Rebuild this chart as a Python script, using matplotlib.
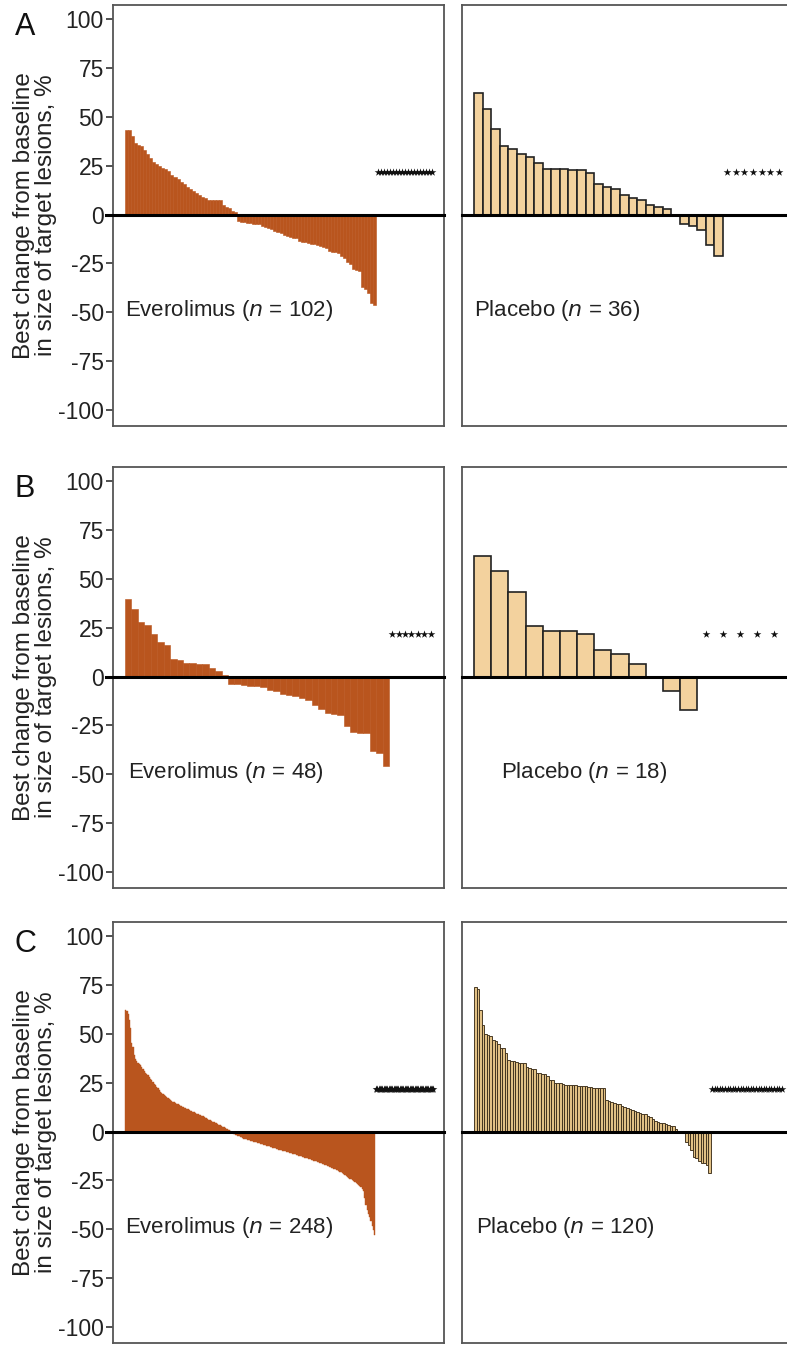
import numpy as np
import matplotlib
matplotlib.use("Agg")
import matplotlib.pyplot as plt

plt.rcParams["font.family"] = ["Liberation Sans", "DejaVu Sans"]

# ── data: best % change per patient (sorted), n per arm ─────────────
evero_a_n = 102
evero_a = [43, 43, 40, 36.5, 35.5, 35, 33, 31, 29, 27, 26, 25, 24, 23, 22, 20,
           19, 18, 16.7, 15.5, 14, 13, 11.8, 11, 10, 9.2, 8.5, 7.5, 7.4, 7.3,
           7.2, 7.2, 5, 3.8, 3.5, 2, 1.2,
           -3.5, -3.7, -3.8, -4.2, -4.4, -4.6, -4.8, -5, -5.8, -6.2, -7, -7.4,
           -8.5, -9, -9.3, -10.3, -10.8, -11.5, -11.8, -12.2, -13.5, -14, -14.2,
           -14.5, -15, -15.3, -15.6, -16.3, -16.7, -17, -18.5, -19, -19.3, -19.6,
           -21, -22, -24.5, -25.5, -28, -28.5, -29, -37, -38, -40, -45, -46]

placebo_a_n = 36
placebo_a = [62.2, 54, 43.8, 34.9, 33.7, 31, 29.3, 26.4, 23.5, 23.5, 23.5, 22.5,
             22.5, 21.3, 15.5, 14.1, 12.8, 10.1, 8.5, 7.2, 4.9, 3.7, 2.9, 0,
             -4.8, -6, -8, -15.7, -21]

evero_b_n = 48
evero_b = [39.5, 34.4, 27.6, 26.2, 21.6, 17.7, 16, 8.9, 8.5, 7, 6.8, 6.6, 6.5,
           4.6, 2.9, 1, -3.6, -3.9, -4.1, -4.6, -4.8, -5.2, -7, -7.6, -9, -9.6,
           -10.2, -11.2, -12, -14.6, -16.7, -18.8, -19.3, -19.8, -25.2, -28.3,
           -28.6, -28.8, -38, -39, -45.7]

placebo_b_n = 18
placebo_b = [61.7, 53.7, 43.1, 25.6, 23, 23, 21.6, 13.6, 11.6, 6.5, 0, -7.2, -17]

evero_c_n = 248
evero_c = [62, 61.5, 60, 57, 53, 45, 43, 39, 37, 36, 35, 34.5, 33.8, 33, 32, 31,
           30, 29.5, 28.8, 28, 27, 26.2, 25.4, 24.5, 23.6, 22.8, 22, 21.2, 20.4,
           19.6, 19, 18.5, 18, 17.4, 16.9, 16.5, 16.1, 15.7, 15.3, 15, 14.6, 14.2,
           13.9, 13.5, 13.2, 12.9, 12.5, 12.2, 11.9, 11.6, 11.3, 11, 10.7, 10.4,
           10.1, 9.8, 9.5, 9.2, 8.9, 8.6, 8.3, 8, 7.7, 7.4, 7.1, 6.8, 6.4, 6.1,
           5.8, 5.5, 5.1, 4.8, 4.5, 4.1, 3.8, 3.5, 3.1, 2.8, 2.5, 2.2, 1.9, 1.5,
           1.2, 0.8, 0.4,
           -0.6, -1.0, -1.3, -1.6, -1.9, -2.2, -2.5, -2.8, -3.0, -3.3, -3.6, -3.8,
           -4.0, -4.2, -4.4, -4.6, -4.8, -5.0, -5.2, -5.4, -5.6, -5.8, -6.0, -6.2,
           -6.4, -6.6, -6.8, -7.0, -7.2, -7.4, -7.6, -7.8, -8.0, -8.2, -8.4, -8.6,
           -8.8, -9.0, -9.2, -9.4, -9.5, -9.7, -9.9, -10.1, -10.3, -10.5, -10.7,
           -10.9, -11.1, -11.3, -11.5, -11.7, -11.9, -12.1, -12.3, -12.5, -12.7,
           -12.9, -13.1, -13.3, -13.5, -13.7, -13.9, -14.1, -14.3, -14.5, -14.8,
           -15.0, -15.3, -15.5, -15.8, -16.0, -16.3, -16.5, -16.8, -17.0, -17.3,
           -17.5, -17.8, -18.1, -18.4, -18.7, -19.0, -19.3, -19.6, -19.9, -20.2,
           -20.5, -20.8, -21.1, -21.5, -22.0, -22.5, -23.0, -23.5, -24.0, -24.5,
           -25.0, -25.5, -26.0, -26.5, -27.0, -27.5, -28.0, -28.5, -29.2, -30.5,
           -34, -37.5, -40, -42, -43.5, -45.5, -48, -50.5, -53]

placebo_c_n = 120
placebo_c = [74, 73, 62, 54.5, 50, 49.5, 49, 46.5, 46, 44.5, 42.8, 42.5, 40, 36.6,
             36, 35.8, 35.5, 35.2, 35, 34.8, 33.2, 32.2, 32, 31.8, 30, 29.8, 29.6,
             29.4, 28.1, 26.5, 26.3, 25, 24.8, 24.6, 24.5, 24, 23.9, 23.8, 23.7,
             23.6, 23.4, 23.2, 23.1, 23, 22.9, 22.8, 22.4, 22.3, 22.2, 22.1, 22,
             16.3, 15.5, 15.2, 14.8, 14, 13.8, 13, 12.6, 12, 11.6, 11, 10.4, 10.2,
             9.6, 9, 8.8, 8, 7.3, 6.5, 5.6, 5, 4.4, 4.2, 3.6, 3.4, 3, 2.6, 1.2,
             0, 0, 0,
             -5.1, -6.8, -9.4, -12.8, -13.5, -15, -16, -16.3, -17, -21.3]

STAR_Y = 21.5          # y where non-evaluable patients are marked (*)
yticks = [100, 75, 50, 25, 0, -25, -50, -75, -100]
ylabel = "Best change from baseline\nin size of target lesions, %"

EVER = "#B9551E"
PLAC = "#F3D29E"
PLAC_C = "#E2C185"

W, H = 787, 1345
fig = plt.figure(figsize=(W / 100, H / 100), dpi=100)

rows = [(5, 426), (467, 888), (922, 1343)]
cols = [113, 462]
AX_W = 331


def make_ax(col, row):
    top, bot = rows[row]
    return fig.add_axes([cols[col] / W, 1 - bot / H, AX_W / W, (bot - top) / H])


def panel(ax, vals, n, face, edge, lw, label, label_x, left):
    x = np.arange(len(vals))
    ax.bar(x, vals, width=1, align="edge", color=face, edgecolor=edge,
           linewidth=lw, zorder=2)
    sx = np.arange(len(vals), n) + 0.5
    ax.scatter(sx, np.full(len(sx), STAR_Y), marker="*", s=34, color="#111111",
               linewidths=0, zorder=3)
    span = n / (1 - 0.0363 - 0.0302)
    ax.set_xlim(-0.0363 * span, n + 0.0302 * span)
    ax.set_ylim(-108, 107)
    ax.axhline(0, xmin=-0.02 if left else 0, xmax=1, color="black", lw=2.2,
               zorder=4, clip_on=False)
    ax.text(label_x, -49, label, transform=ax.get_yaxis_transform(),
            fontsize=16, va="center", ha="left", color="#222222")
    ax.set_xticks([])
    for s in ax.spines.values():
        s.set_color("#555555")
        s.set_linewidth(1.3)
    if left:
        ax.set_yticks(yticks)
        ax.set_yticklabels([str(t) for t in yticks], fontsize=16.5, color="#222222")
        ax.tick_params(axis="y", length=5, width=1.2, color="#333333", pad=1.5)
        ax.set_ylabel(ylabel, fontsize=17.5, color="#222222", linespacing=1.0)
        ax.yaxis.set_label_coords(-0.168, 0.5)
    else:
        ax.set_yticks([])


panels = [
    (0, 0, evero_a, evero_a_n, EVER, EVER, 0.4, "Everolimus ($n$ = 102)", 0.036),
    (1, 0, placebo_a, placebo_a_n, PLAC, "#222222", 1.2, "Placebo ($n$ = 36)", 0.036),
    (0, 1, evero_b, evero_b_n, EVER, EVER, 0.4, "Everolimus ($n$ = 48)", 0.045),
    (1, 1, placebo_b, placebo_b_n, PLAC, "#222222", 1.2, "Placebo ($n$ = 18)", 0.118),
    (0, 2, evero_c, evero_c_n, EVER, EVER, 0.3, "Everolimus ($n$ = 248)", 0.036),
    (1, 2, placebo_c, placebo_c_n, PLAC_C, "#3e301c", 0.65, "Placebo ($n$ = 120)", 0.042),
]

for col, row, vals, n, face, edge, lw, label, lx in panels:
    ax = make_ax(col, row)
    panel(ax, vals, n, face, edge, lw, label, lx, col == 0)

for letter, (top, _) in zip("ABC", rows):
    fig.text(25 / W, 1 - (top + 22) / H, letter, fontsize=22, ha="center",
             va="center", color="#111111")

fig.savefig("out.png", dpi=100)
